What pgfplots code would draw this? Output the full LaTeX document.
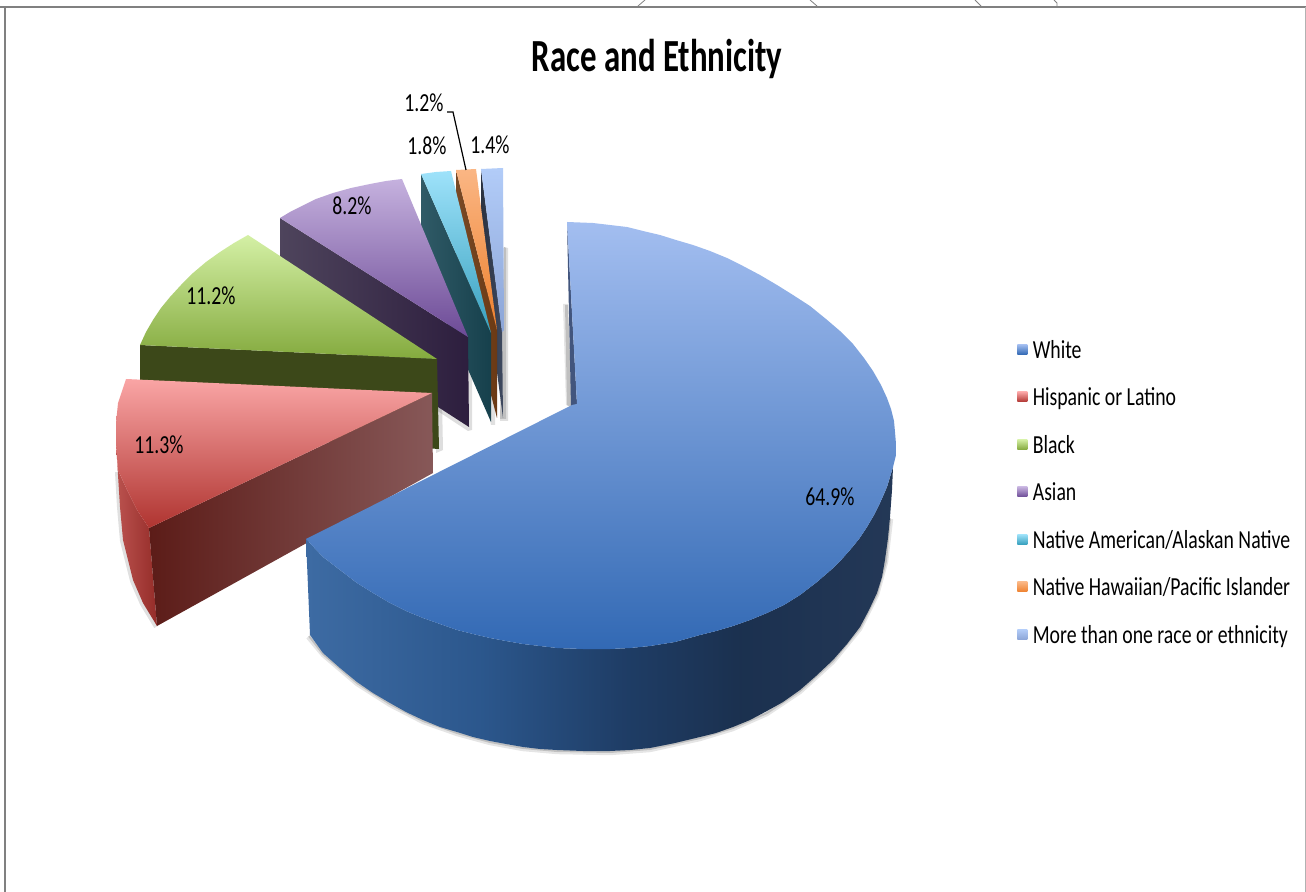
\documentclass[border=0pt]{standalone}
\usepackage{pgfplots}
\pgfplotsset{compat=1.18}
\usepackage{fontspec}
\setmainfont[FakeStretch=0.76]{Carlito}
% Side wall of the large slice: mid blue at the left, navy towards the right
\pgfdeclarehorizontalshading{whitewall}{100bp}{
  rgb(0bp)=(0.24,0.42,0.64);
  rgb(25bp)=(0.24,0.42,0.64);
  rgb(40bp)=(0.17,0.34,0.55);
  rgb(52bp)=(0.12,0.24,0.40);
  rgb(62bp)=(0.105,0.19,0.31);
  rgb(75bp)=(0.14,0.22,0.34);
  rgb(100bp)=(0.14,0.22,0.34)}
\definecolor{whiteA}{RGB}{163,190,240}
\definecolor{whiteB}{RGB}{108,148,215}
\definecolor{whiteC}{RGB}{50,105,180}
\definecolor{redA}{RGB}{250,165,165}
\definecolor{redB}{RGB}{225,125,120}
\definecolor{redC}{RGB}{175,52,48}
\definecolor{greenA}{RGB}{212,240,165}
\definecolor{greenB}{RGB}{170,208,115}
\definecolor{greenC}{RGB}{132,170,62}
\definecolor{purpleA}{RGB}{197,177,222}
\definecolor{purpleB}{RGB}{150,125,185}
\definecolor{purpleC}{RGB}{108,74,150}
\definecolor{cyanA}{RGB}{158,226,250}
\definecolor{cyanB}{RGB}{98,196,226}
\definecolor{cyanC}{RGB}{55,160,190}
\definecolor{orangeA}{RGB}{250,182,132}
\definecolor{orangeB}{RGB}{245,155,90}
\definecolor{orangeC}{RGB}{238,128,45}
\definecolor{moreA}{RGB}{178,204,248}
\definecolor{moreB}{RGB}{160,186,232}
\definecolor{moreC}{RGB}{140,165,215}
\pgfplotsset{
  legendkey/.style={legend image code/.code={
    \path[##1,draw=none] (0pt,-2.5pt) rectangle (5pt,2.5pt);
    \path (7.5pt,0pt);}},
}
\begin{document}
\begin{tikzpicture}
\begin{axis}[
  scale only axis, width=653pt, height=446pt,
  xmin=0, xmax=1306, ymin=0, ymax=892, y dir=reverse,
  hide axis, no markers,
  clip=true,
  legend style={at={(axis cs:1017,340)}, anchor=north west, draw=none, fill=none,
    font=\fontsize{13}{14}\selectfont, row sep=14.75pt, inner xsep=0pt, inner ysep=0pt,
    nodes={inner sep=0pt, anchor=west, text depth=0pt}, cells={anchor=west}},
  legend cell align=left,
]
\addlegendimage{legendkey, top color=whiteA, bottom color=whiteC}
\addlegendentry{White}
\addlegendimage{legendkey, top color=redA, bottom color=redC}
\addlegendentry{Hispanic or Latino}
\addlegendimage{legendkey, top color=greenA, bottom color=greenC}
\addlegendentry{Black}
\addlegendimage{legendkey, top color=purpleA, bottom color=purpleC}
\addlegendentry{Asian}
\addlegendimage{legendkey, top color=cyanA, bottom color=cyanC}
\addlegendentry{Native American/Alaskan Native}
\addlegendimage{legendkey, top color=orangeA, bottom color=orangeC}
\addlegendentry{Native Hawaiian/Pacific Islander}
\addlegendimage{legendkey, top color=moreA, bottom color=moreC}
\addlegendentry{More than one race or ethnicity}

% outer frame and the clipped shapes above it
\addplot[draw=gray, line width=0.6pt, forget plot] coordinates {(0,7) (1306,7)};
\addplot[draw=gray, line width=0.6pt, forget plot] coordinates {(5,7) (5,892)};
\addplot[draw=gray!60, line width=0.4pt, forget plot] coordinates {(1305.5,7) (1305.5,892)};
\addplot[draw=gray, line width=0.4pt, forget plot] coordinates {(638,6) (645,0)};
\addplot[draw=gray, line width=0.4pt, forget plot] coordinates {(810,0) (817,6)};
\addplot[draw=gray, line width=0.4pt, forget plot] coordinates {(975,0) (981,6)};
\addplot[draw=gray, line width=0.4pt, forget plot] coordinates {(1054,0) (1057,3) (1057,6)};

% soft shadows behind the exploded slices
\addplot[fill=black, draw=none, opacity=0.12, forget plot] coordinates {(504,247) (508,248) (508,421) (500,421)};
\addplot[fill=black, draw=none, opacity=0.15, forget plot] coordinates {(504,247) (506,248) (506,419) (500,419)};
\addplot[fill=black, draw=none, opacity=0.10, forget plot] coordinates {(563,304) (568,304) (572,408) (566,405)};
\addplot[fill=black, draw=none, opacity=0.16, forget plot] coordinates {(565,305) (568,305) (572,408) (567,405)};
\addplot[fill=black, draw=none, opacity=0.13, forget plot] coordinates {(467,337) (472,340) (472,430) (468,431) (436,410)};
\addplot[fill=black, draw=none, opacity=0.13, forget plot] coordinates {(436,400) (442,400) (443,450) (436,453)};
\addplot[fill=black, draw=none, opacity=0.12, forget plot] coordinates {(480,370) (495,370) (495,425) (491,425)};
% shadow along the rim of the large slice
\addplot[draw=black, opacity=0.10, line width=2.2pt, forget plot]
  coordinates {(308,637) (323,655) (357,684) (390,705) (423,722) (457,734) (490,743) (523,749) (557,752) (610,753) (650,750) (700,739) (733,729) (767,714) (800,692) (833,662) (860,629) (877,595) (886,562) (891,519)};
\addplot[draw=black, opacity=0.16, line width=1pt, forget plot]
  coordinates {(309,636) (323,654) (357,683) (390,704) (423,721) (457,733) (490,742) (523,748) (557,751) (610,752) (650,749) (700,738) (733,728) (767,713) (800,691) (833,661) (860,628) (877,594) (886,561) (890,518)};
% shadow along the rim of the second slice
\addplot[draw=black, opacity=0.12, line width=2pt, forget plot]
  coordinates {(117,472) (119,507) (122,541) (132,581) (142,604) (156,627)};

% More than one race or ethnicity
\addplot[left color=moreC!30!black, right color=moreC!45!black, draw=none, forget plot]
  coordinates {(481,169) (502,330) (503,418) (481,250)};
\addplot[draw=none, top color=moreA, middle color=moreB, bottom color=moreC, forget plot]
  coordinates {(481,169) (492,168.5) (503,168) (504,330) (502,332)};

% Native Hawaiian/Pacific Islander
\addplot[draw=none, left color=orangeC!50!black!85!gray, right color=orangeC!45!black, forget plot]
  coordinates {(456,170) (497,330) (497,418) (456,260)};
\addplot[draw=none, top color=orangeA, middle color=orangeB, bottom color=orangeC, forget plot]
  coordinates {(456,170) (466,169.5) (476,169) (497,330)};

% Native American/Alaskan Native
\addplot[draw=none, left color=cyanC!45!black!90!white, right color=cyanC!40!black, forget plot]
  coordinates {(421,174) (491,333) (491,422) (421,262)};
\addplot[draw=none, top color=cyanA, middle color=cyanB, bottom color=cyanC, forget plot]
  coordinates {(421,174) (436,172) (451,171) (491,333)};

% Asian
\addplot[draw=none, left color={rgb,255:red,78;green,68;blue,92}, right color={rgb,255:red,45;green,30;blue,62}, forget plot]
  coordinates {(280,218) (468,337) (469,427) (280,305)};
\addplot[draw=none, top color=purpleA, middle color=purpleB, bottom color=purpleC, forget plot]
  coordinates {(280,218) (290,212) (300,207) (316,199) (333,193) (351,188) (370,184) (386,181) (402,179) (468,337)};

% Black
\addplot[draw=none, fill={rgb,255:red,60;green,72;blue,25}, forget plot]
  coordinates {(140,345) (437,359) (439,449) (140,430)};
\addplot[draw=none, top color=greenA, middle color=greenB, bottom color=greenC, forget plot]
  coordinates {(248,235) (234,243) (220,252) (206,262) (193,273) (181,285) (170,297) (161,308) (153,320) (146,332) (140,345) (437,359)};

% Hispanic or Latino
\addplot[draw=none, left color=redC!85!white, right color=redC!85!black, forget plot]
  coordinates {(116,443) (118,470) (127,490) (137,510) (149,528) (157,626) (143,603) (133,580) (123,540) (120,507)};
\addplot[draw=none, left color={rgb,255:red,92;green,28;blue,24}, right color={rgb,255:red,135;green,88;blue,88}, forget plot]
  coordinates {(149,528) (432,393) (433,473) (157,626)};
\addplot[draw=none, top color=redA, middle color=redB, bottom color=redC, forget plot]
  coordinates {(126,379) (122,391) (118,403) (116,423) (116,443) (118,470) (127,490) (137,510) (149,528) (432,393)};

% White
\addplot[draw=none, fill={rgb,255:red,66;green,85;blue,125}, forget plot]
  coordinates {(567,222) (577,404) (571,407)};
\addplot[draw=none, shade, shading=whitewall, forget plot]
  coordinates {(306,539) (310,635) (323,653) (340,668) (357,682) (373,693) (390,703) (406,712) (423,720) (440,727) (457,732) (473,737) (490,741) (506,744) (523,747) (540,749) (557,750) (583,751) (610,751) (630,750) (650,748) (675,743) (700,737) (716,733) (733,727) (750,720) (767,711) (783,702) (800,690) (816,676) (833,660) (847,644) (860,627) (869,610) (877,593) (882,577) (885,560) (888,538) (890,517) (892,490) (893,467) (887,487) (880,503) (874,515) (867,527) (859,539) (850,550) (842,559) (832,569) (817,582) (800,595) (784,605) (767,613) (750,620) (733,626) (716,631) (700,635) (675,642) (650,646) (630,648) (610,649) (583,649) (557,648) (540,646) (523,644) (506,641) (490,638) (473,634) (457,630) (440,624) (423,618) (406,611) (390,603) (373,593) (357,583) (340,570) (323,557)};
\addplot[draw=none, top color=whiteA, middle color=whiteB, bottom color=whiteC, forget plot]
  coordinates {(567,222) (593,223) (610,225) (627,227) (643,231) (660,235) (676,240) (693,245) (710,251) (727,258) (743,266) (760,275) (777,285) (793,295) (810,306) (826,319) (840,331) (853,344) (864,358) (873,371) (881,385) (887,398) (891,409) (894,421) (895,432) (896,444) (896,455) (893,467) (887,487) (880,503) (874,515) (867,527) (859,539) (850,550) (842,559) (832,569) (817,582) (800,595) (784,605) (767,613) (750,620) (733,626) (716,631) (700,635) (675,642) (650,646) (630,648) (610,649) (583,649) (557,648) (540,646) (523,644) (506,641) (490,638) (473,634) (457,630) (440,624) (423,618) (406,611) (390,603) (373,593) (357,583) (340,570) (323,557) (306,539) (572,405) (577,404)};

% leader line from the 1.2% label to its slice
\addplot[draw=black, line width=0.6pt, forget plot] coordinates {(447,112) (453,112) (466,170)};

% title and value labels
\node[font=\fontsize{23}{26}\selectfont\bfseries, xscale=0.94] at (axis cs:657,59) {Race and Ethnicity};
\node[font=\fontsize{13}{14}\selectfont] at (axis cs:424,103) {1.2\%};
\node[font=\fontsize{13}{14}\selectfont] at (axis cs:427,146) {1.8\%};
\node[font=\fontsize{13}{14}\selectfont] at (axis cs:490,145) {1.4\%};
\node[font=\fontsize{13}{14}\selectfont] at (axis cs:352,206) {8.2\%};
\node[font=\fontsize{13}{14}\selectfont] at (axis cs:211,296) {11.2\%};
\node[font=\fontsize{13}{14}\selectfont] at (axis cs:159,445) {11.3\%};
\node[font=\fontsize{13}{14}\selectfont] at (axis cs:830,497) {64.9\%};
\end{axis}
\end{tikzpicture}
\end{document}
